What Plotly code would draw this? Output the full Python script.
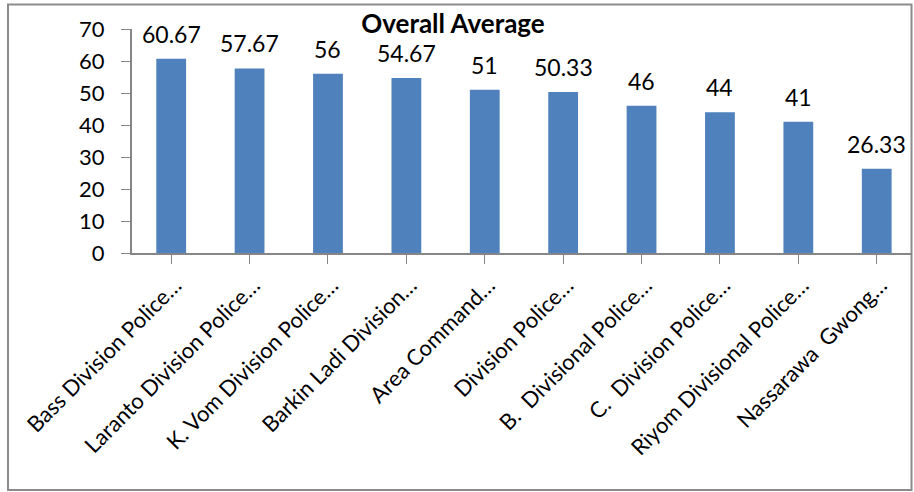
import plotly.graph_objects as go

categories = [
    "Bass Division Police…",
    "Laranto Division Police…",
    "K. Vom Division Police…",
    "Barkin Ladi Division…",
    "Area Command…",
    "Division Police…",
    "B.  Divisional Police…",
    "C.  Division Police…",
    "Riyom Divisional Police…",
    "Nassarawa  Gwong…",
]
values = [60.67, 57.67, 56, 54.67, 51, 50.33, 46, 44, 41, 26.33]
value_labels = ["60.67", "57.67", "56", "54.67", "51", "50.33", "46", "44", "41", "26.33"]
y_ticks = [0, 10, 20, 30, 40, 50, 60, 70]

W, H = 914, 492
L, R, T, B = 132, 2, 29, 239
FONT = "Lato, 'Open Sans', sans-serif"

fig = go.Figure()
fig.add_trace(go.Bar(
    x=list(range(len(categories))),
    y=values,
    marker=dict(color="#4F81BD", line=dict(width=0)),
    width=0.38,
    hoverinfo="skip",
))

for i, (v, lab) in enumerate(zip(values, value_labels)):
    fig.add_annotation(
        x=i, y=v, text=lab, showarrow=False,
        xref="x", yref="y", yanchor="bottom", yshift=9,
        font=dict(family=FONT, size=23, color="#000000"),
    )

pw = W - L - R
ph = H - T - B
# chart border (in paper coords relative to plot area)
fig.add_shape(
    type="rect", xref="paper", yref="paper",
    x0=(8 - L) / pw, x1=(911.5 - L) / pw,
    y0=(H - B - 490) / ph, y1=(H - B - 4.5) / ph,
    line=dict(color="#8C8C8C", width=2),
    fillcolor="rgba(0,0,0,0)", layer="below",
)

fig.update_layout(
    width=W, height=H,
    margin=dict(l=L, r=R, t=T, b=B),
    paper_bgcolor="white", plot_bgcolor="white",
    showlegend=False,
    title=dict(
        text="<b>Overall Average</b>",
        x=453 / W, xanchor="center", xref="container",
        y=(H - 24) / H, yanchor="middle", yref="container",
        font=dict(family=FONT, size=26, color="#000000"),
    ),
    font=dict(family=FONT, color="#000000"),
)

fig.update_xaxes(
    tickmode="array",
    tickvals=list(range(len(categories))),
    ticktext=categories,
    tickangle=-45,
    range=[-0.5, 9.45],
    showline=True, linecolor="#868686", linewidth=2,
    ticks="outside", ticklen=9, tickcolor="#868686", tickwidth=1,
    tickson="boundaries",
    ticklabelshift=4,
    showgrid=False, zeroline=False,
    tickfont=dict(family=FONT, size=22, color="#000000"),
)
fig.update_yaxes(
    range=[0, 70],
    tickvals=y_ticks,
    showline=True, linecolor="#868686", linewidth=2,
    ticks="outside", ticklen=9, tickcolor="#868686", tickwidth=1,
    ticklabelstandoff=12,
    showgrid=False, zeroline=False,
    tickfont=dict(family=FONT, size=22, color="#000000"),
)

fig.write_html(
    "out.html",
    config={"displayModeBar": False},
    post_script="document.body.style.margin='0px';document.body.style.overflow='hidden';",
)
